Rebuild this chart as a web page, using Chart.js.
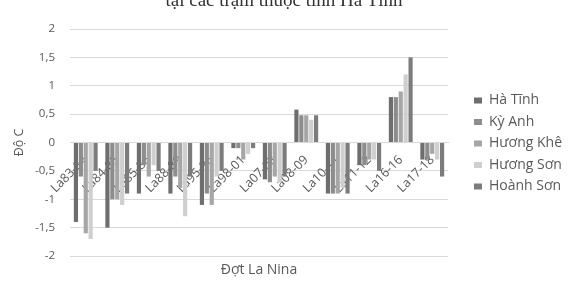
<!DOCTYPE html>
<html>
<head>
<meta charset="utf-8">
<script src="https://cdn.jsdelivr.net/npm/chart.js@4.4.1/dist/chart.umd.min.js"></script>
<style>
  html, body { margin: 0; padding: 0; background: #fff; }
  #wrap { position: relative; width: 578px; height: 282px; overflow: hidden; background: #fff; }
  #c { position: absolute; left: 0; top: 0; }
  #title { position: absolute; left: 0; width: 568px; top: -10px; text-align: center;
           font-family: "Liberation Serif", "DejaVu Serif", serif; font-size: 19px; line-height: 19px; color: #333; white-space: nowrap; }
  #xtitle { position: absolute; left: 159px; width: 200px; top: 260px; text-align: center;
            font-family: "Open Sans", sans-serif; font-size: 14px; line-height: 17px; color: #595959; }
</style>
</head>
<body>
<div id="wrap">
  <canvas id="c" width="578" height="282"></canvas>
  <div id="title">tại các trạm thuộc tỉnh Hà Tĩnh</div>
  <div id="xtitle">Đợt La Nina</div>
</div>
<script>
const categories = ["La83-84", "La84-85", "La85-86", "La88-89", "La95-96", "La98-01",
                    "La07-08", "La08-09", "La10-11", "La11-12", "La16-16", "La17-18"];
const haTinh   = [-1.4, -1.5, -0.9, -0.9, -1.1, -0.1, -0.65, 0.58, -0.9, -0.4, 0.8, -0.3];
const kyAnh    = [-0.6, -1.0, -0.4, -0.6, -0.9, -0.1, -0.7, 0.48, -0.9, -0.4, 0.8, -0.3];
const huongKhe = [-1.6, -1.0, -0.6, -0.8, -1.1, -0.3, -0.6, 0.48, -0.9, -0.3, 0.9, -0.2];
const huongSon = [-1.7, -1.1, -0.4, -1.3, -0.6, -0.2, -0.7, 0.4, -0.8, -0.3, 1.2, -0.3];
const hoanhSon = [-0.5, -0.9, -0.5, -0.6, -0.5, -0.1, -0.6, 0.48, -0.9, -0.5, 1.5, -0.6];
const seriesNames = ["Hà Tĩnh", "Kỳ Anh", "Hương Khê", "Hương Sơn", "Hoành Sơn"];
const yTicks = [-2, -1.5, -1, -0.5, 0, 0.5, 1, 1.5, 2];

const colors = ["#6e6e6e", "#8d8d8d", "#a6a6a6", "#cfcfcf", "#7c7c7c"];
const seriesData = [haTinh, kyAnh, huongKhe, huongSon, hoanhSon];

const LEGEND_W = 130;
const LEGEND_PAD = 7.5;
const LEGEND_BOX_X = 474;

const legendPlace = {
  id: 'legendPlace',
  afterInit(chart) {
    const L = chart.legend;
    if (!L) return;
    const origFit = L.fit.bind(L);
    L.fit = function () { origFit(); this.width = LEGEND_W; };
  },
  afterLayout(chart) {
    const L = chart.legend;
    const dx = (LEGEND_BOX_X - LEGEND_PAD) - L.left;
    L.left += dx; L.right += dx;
    L.top += 1; L.bottom += 1;
  }
};

Chart.defaults.font.family = '"Open Sans", sans-serif';
Chart.defaults.color = '#595959';

new Chart(document.getElementById('c'), {
  type: 'bar',
  data: {
    labels: categories,
    datasets: seriesData.map((d, i) => ({
      label: seriesNames[i],
      data: d,
      backgroundColor: colors[i],
      borderWidth: 0,
      categoryPercentage: 0.78,
      barPercentage: 0.85
    }))
  },
  options: {
    responsive: false,
    animation: false,
    devicePixelRatio: 1,
    layout: { padding: { top: 29, bottom: 26, left: 0, right: 0 } },
    plugins: {
      legend: {
        position: 'right',
        align: 'center',
        labels: { boxWidth: 8, boxHeight: 6, padding: LEGEND_PAD, color: '#595959',
                  font: { size: 14 } }
      },
      tooltip: { enabled: false },
      title: { display: false }
    },
    scales: {
      x: {
        position: { y: 0 },
        grid: { display: false, drawTicks: false },
        border: { display: true, color: '#d9d9d9' },
        ticks: { autoSkip: false, minRotation: 45, maxRotation: 45, padding: 10,
                 color: '#595959', font: { size: 12.5 } }
      },
      y: {
        min: -2, max: 2,
        afterFit(scale) { scale.width = 70; },
        afterBuildTicks(scale) { scale.ticks = yTicks.map(v => ({ value: v })); },
        grid: { color: '#d9d9d9', drawTicks: false },
        border: { display: false },
        ticks: { padding: 15, color: '#595959', font: { size: 11.5 },
                 callback: v => String(v).replace('.', ',') },
        title: { display: true, text: 'Độ C', color: '#595959', font: { size: 12.5 },
                 padding: { top: 12, bottom: 0 } }
      }
    }
  },
  plugins: [legendPlace]
});
</script>
</body>
</html>
